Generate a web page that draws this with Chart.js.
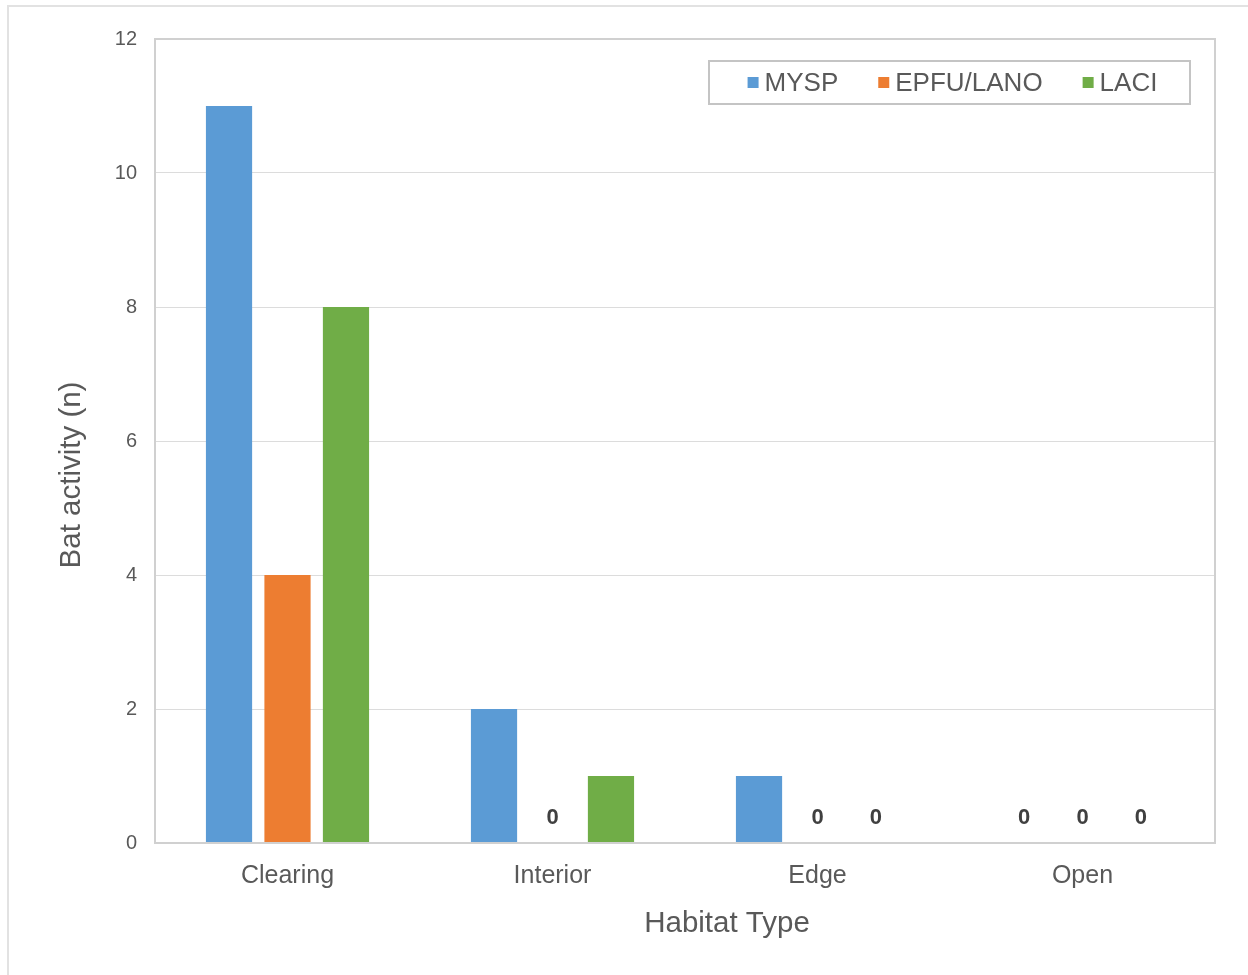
<!DOCTYPE html>
<html>
<head>
<meta charset="utf-8">
<script src="https://cdn.jsdelivr.net/npm/chart.js@4.4.0/dist/chart.umd.min.js"></script>
<style>
  html, body { margin: 0; padding: 0; background: #fff; overflow: hidden; }
  #frame { position: absolute; left: 7px; top: 5px; width: 1280px; height: 1000px; border: 2px solid #e2e2e2; }
  #wrap { position: absolute; left: 0; top: 0; width: 1248px; height: 975px; }
</style>
</head>
<body>
<div id="frame"></div>
<div id="wrap"><canvas id="chart" width="1248" height="975"></canvas></div>
<script>
// data
const habitats = ['Clearing', 'Interior', 'Edge', 'Open'];
const seriesNames = ['MYSP', 'EPFU/LANO', 'LACI'];
const myspValues = [11, 2, 1, 0];
const epfuValues = [4, 0, 0, 0];
const laciValues = [8, 1, 0, 0];
const seriesColors = ['#5B9BD5', '#ED7D31', '#70AD47'];
const yTicks = [0, 2, 4, 6, 8, 10, 12];
const xTitle = 'Habitat Type';
const yTitle = 'Bat activity (n)';

const textGray = '#595959';
const fontFamily = '"Liberation Sans", Arial, sans-serif';

// border around the plot area
const plotBorder = {
  id: 'plotBorder',
  afterDraw(chart) {
    const { ctx, chartArea: a } = chart;
    ctx.save();
    ctx.strokeStyle = '#d0d0d0';
    ctx.lineWidth = 2;
    ctx.strokeRect(a.left, a.top, a.right - a.left, a.bottom - a.top);
    ctx.restore();
  }
};

// axis titles, placed a bit off the plot centre like the original
const axisTitles = {
  id: 'axisTitles',
  afterDraw(chart) {
    const { ctx, chartArea: a } = chart;
    ctx.save();
    ctx.font = '29.5px ' + fontFamily;
    ctx.fillStyle = textGray;
    ctx.textAlign = 'center';
    ctx.textBaseline = 'middle';
    ctx.fillText(xTitle, (a.left + a.right) / 2 + 42, 924);
    ctx.translate(72, (a.top + a.bottom) / 2 + 34);
    ctx.rotate(-Math.PI / 2);
    ctx.fillText(yTitle, 0, 0);
    ctx.restore();
  }
};

// "0" labels over empty bars
const zeroLabels = {
  id: 'zeroLabels',
  afterDatasetsDraw(chart) {
    const { ctx } = chart;
    const y0 = chart.scales.y.getPixelForValue(0);
    ctx.save();
    ctx.font = 'bold 22px ' + fontFamily;
    ctx.fillStyle = '#404040';
    ctx.textAlign = 'center';
    ctx.textBaseline = 'middle';
    chart.data.datasets.forEach((ds, i) => {
      chart.getDatasetMeta(i).data.forEach((bar, j) => {
        if (ds.data[j] === 0) ctx.fillText('0', bar.x, y0 - 25);
      });
    });
    ctx.restore();
  }
};

// boxed legend inside the plot, top right
const boxLegend = {
  id: 'boxLegend',
  afterDraw(chart) {
    const { ctx, chartArea: a } = chart;
    const boxW = 481, boxH = 43;
    const bx = a.right - 25 - boxW, by = a.top + 22;
    ctx.save();
    ctx.strokeStyle = '#c4c4c4';
    ctx.lineWidth = 2;
    ctx.strokeRect(bx, by, boxW, boxH);
    ctx.font = '26px ' + fontFamily;
    ctx.textBaseline = 'middle';
    const mark = 11, gap = 6, itemGap = 40;
    const widths = chart.data.datasets.map(ds => mark + gap + ctx.measureText(ds.label).width);
    const total = widths.reduce((s, w) => s + w, 0) + itemGap * (widths.length - 1);
    let x = bx + (boxW - total) / 2 + 3;
    const cy = by + boxH / 2;
    chart.data.datasets.forEach((ds, i) => {
      ctx.fillStyle = ds.backgroundColor;
      ctx.fillRect(x, cy - mark / 2, mark, mark);
      ctx.fillStyle = textGray;
      ctx.fillText(ds.label, x + mark + gap, cy + 1);
      x += widths[i] + itemGap;
    });
    ctx.restore();
  }
};

const valueSets = [myspValues, epfuValues, laciValues];

new Chart(document.getElementById('chart').getContext('2d'), {
  type: 'bar',
  data: {
    labels: habitats,
    datasets: seriesNames.map((name, i) => ({
      label: name,
      data: valueSets[i],
      backgroundColor: seriesColors[i],
      borderWidth: 0,
      categoryPercentage: 0.662,
      barPercentage: 0.79
    }))
  },
  options: {
    responsive: false,
    animation: false,
    layout: { padding: { left: 58, top: 39, right: 33, bottom: 36 } },
    plugins: {
      legend: { display: false },
      tooltip: { enabled: false }
    },
    scales: {
      x: {
        grid: { display: false, drawTicks: false },
        border: { display: false },
        ticks: { color: textGray, font: { family: fontFamily, size: 25 }, padding: 18 },
        afterFit(scale) { scale.height = 96; }
      },
      y: {
        min: 0,
        max: 12,
        afterBuildTicks(scale) { scale.ticks = yTicks.map(v => ({ value: v })); },
        grid: { color: '#dcdcdc', lineWidth: 1, drawTicks: false },
        border: { display: false },
        ticks: { color: textGray, font: { family: fontFamily, size: 20 }, padding: 18 },
        afterFit(scale) { scale.width = 97; }
      }
    }
  },
  plugins: [plotBorder, axisTitles, zeroLabels, boxLegend]
});
</script>
</body>
</html>
